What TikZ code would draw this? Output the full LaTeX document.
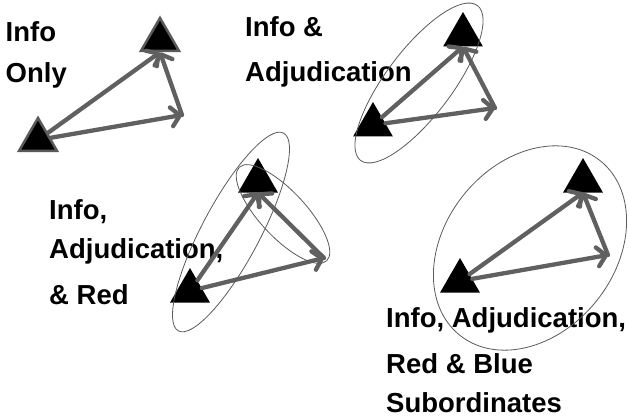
\documentclass[tikz,border=0pt]{standalone}
\usepackage{fontspec}
\setmainfont{Liberation Sans}
\usepackage{tikz}
\usetikzlibrary{shapes.geometric,arrows.meta}
\definecolor{arrgray}{RGB}{96,96,96}
\definecolor{ringgray}{RGB}{90,90,90}

\begin{document}
\begin{tikzpicture}[x=1pt, y=-1pt,
  tri/.style={regular polygon, regular polygon sides=3, fill=black, inner sep=0pt, minimum size=46pt},
  tribox/.style={tri, draw=ringgray, line width=2.5pt, minimum size=44pt},
  arr/.style={draw=arrgray, line width=4.3pt, line cap=round, -{Straight Barb[length=8.5pt, width=19pt, round]}},
  ring/.style={ellipse, draw=ringgray, line width=0.8pt, inner sep=0pt},
  lbl/.style={font=\bfseries\fontsize{27.5}{41}\selectfont, align=left, anchor=base west, inner sep=0pt}]
  \useasboundingbox (0,0) rectangle (629,417);

  \node (l1) [lbl] at (5.5,83) {Info\\Only};
  \node (bl1) [tribox] at (38,140) {};
  \node (top1) [tribox] at (160,40) {};
  \coordinate (r1) at (182,115);
  \draw (bl1) edge [arr] (top1.south);
  \draw (bl1) edge [arr] (r1);
  \draw (r1) edge [arr] (top1.south);

  \node (l2) [lbl] at (245,82) {Info \&\\[4pt]Adjudication};
  \node (bl2) [tri] at (373,125) {};
  \node (top2) [tri] at (463,35) {};
  \coordinate (r2) at (495,108);
  \draw (bl2) edge [arr] (top2.south);
  \draw (bl2) edge [arr] (r2);
  \draw (r2) edge [arr] (top2.south);
  \node (e2) [ring, minimum width=194pt, minimum height=66pt, rotate=53] at (419,83) {};

  \node (l3) [lbl] at (49,304) {Info,\\[-2pt]Adjudication,\\[5pt]\& Red};
  \node (bl3) [tri] at (190,291) {};
  \node (top3) [tri] at (258,181) {};
  \coordinate (r3) at (324,258);
  \draw (bl3) edge [arr] (top3.south);
  \draw (bl3) edge [arr] (r3);
  \draw (r3) edge [arr] (top3.south);
  \node (e3a) [ring, minimum width=224pt, minimum height=58pt, rotate=62] at (231,232) {};
  \node (e3b) [ring, minimum width=128pt, minimum height=46pt, rotate=-47] at (283,214) {};

  \node (l4) [lbl] at (386,412) {Info, Adjudication,\\[5pt]Red \& Blue\\[-2pt]Subordinates};
  \node (bl4) [tri] at (460,281) {};
  \node (top4) [tri] at (583,181) {};
  \coordinate (r4) at (608,255);
  \draw (bl4) edge [arr] (top4.south);
  \draw (bl4) edge [arr] (r4);
  \draw (r4) edge [arr] (top4.south);
  \node (e4) [ring, minimum width=224pt, minimum height=170pt, rotate=51] at (530,248) {};
\end{tikzpicture}
\end{document}
